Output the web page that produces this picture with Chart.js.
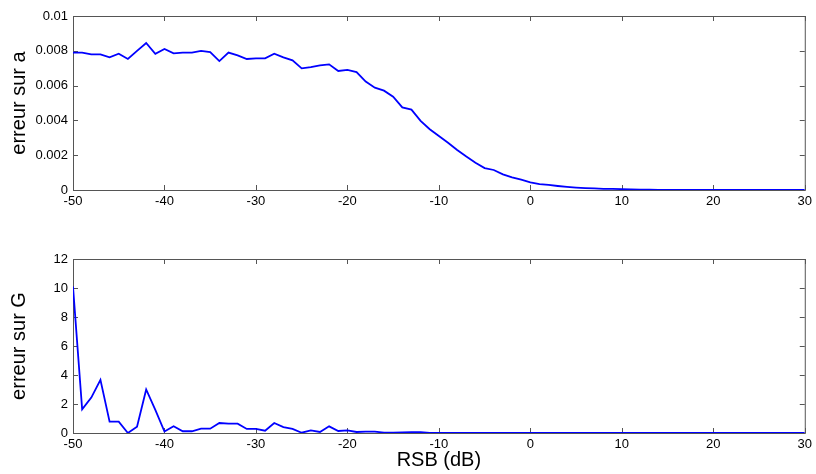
<!DOCTYPE html>
<html>
<head>
<meta charset="utf-8">
<script src="https://cdn.jsdelivr.net/npm/chart.js@4"></script>
<style>
  html, body { margin: 0; padding: 0; background: #fff; }
  #wrap { position: relative; width: 816px; height: 474px; }
  canvas { position: absolute; left: 0; }
  #topChart { top: 0; }
  #bottomChart { top: 237px; }
</style>
</head>
<body>
<div id="wrap">
  <canvas id="topChart" width="816" height="237"></canvas>
  <canvas id="bottomChart" width="816" height="237"></canvas>
</div>
<script>
// RSB values (dB)
const rsb = [
  -50, -49, -48, -47, -46, -45, -44, -43, -42, -41,
  -40, -39, -38, -37, -36, -35, -34, -33, -32, -31,
  -30, -29, -28, -27, -26, -25, -24, -23, -22, -21,
  -20, -19, -18, -17, -16, -15, -14, -13, -12, -11,
  -10, -9, -8, -7, -6, -5, -4, -3, -2, -1,
  0, 1, 2, 3, 4, 5, 6, 7, 8, 9,
  10, 11, 12, 13, 14, 15, 16, 17, 18, 19,
  20, 21, 22, 23, 24, 25, 26, 27, 28, 29,
  30
];

// erreur sur a
const errA = [
  0.0079, 0.0079, 0.0078, 0.0078, 0.00762, 0.00783, 0.00753, 0.0080, 0.00845, 0.00783,
  0.0081, 0.00785, 0.0079, 0.0079, 0.0080, 0.00793, 0.00741, 0.0079, 0.00774, 0.00753,
  0.00757, 0.00757, 0.00783, 0.00762, 0.00745, 0.00699, 0.00706, 0.00716, 0.00722, 0.00684,
  0.0069, 0.00678, 0.00623, 0.00588, 0.00571, 0.00536, 0.00475, 0.00462, 0.00397, 0.00349,
  0.0031, 0.00272, 0.0023, 0.00192, 0.00157, 0.00126, 0.00115, 0.0009, 0.00073, 0.00059,
  0.00044, 0.00034, 0.00029, 0.00023, 0.00018, 0.00014, 0.00011, 0.00009, 0.00007, 0.00006,
  0.00005, 0.00003, 0.00002, 0.00002, 0.00001, 0.00001, 0.00001, 0.00001, 0.00001, 0.00001,
  0.00001, 0.00001, 0.00001, 0.00001, 0.00001, 0.00001, 0.00001, 0.00001, 0.00001, 0.00001,
  0.00001
];

// erreur sur G
const errG = [
  10.1, 1.63, 2.44, 3.66, 0.78, 0.78, 0.0, 0.44, 3.0, 1.6,
  0.1, 0.46, 0.12, 0.12, 0.3, 0.3, 0.69, 0.64, 0.64, 0.28,
  0.28, 0.16, 0.69, 0.41, 0.28, 0.02, 0.18, 0.07, 0.46, 0.14,
  0.18, 0.07, 0.1, 0.1, 0.02, 0.02, 0.05, 0.06, 0.06, 0.01,
  0.01, 0.01, 0.01, 0.01, 0.01, 0.01, 0.01, 0.01, 0.01, 0.01,
  0.01, 0.01, 0.01, 0.01, 0.01, 0.01, 0.01, 0.01, 0.01, 0.01,
  0.01, 0.01, 0.01, 0.01, 0.01, 0.01, 0.01, 0.01, 0.01, 0.01,
  0.01, 0.01, 0.01, 0.01, 0.01, 0.01, 0.01, 0.01, 0.01, 0.01,
  0.01
];

// tick values
const xTicks = [-50, -40, -30, -20, -10, 0, 10, 20, 30];
const yTicksA = [0, 0.002, 0.004, 0.006, 0.008, 0.01];
const yTicksG = [0, 2, 4, 6, 8, 10, 12];

const AXIS_COLOR = '#555555';
const FONT = 'Liberation Sans, Arial, Helvetica, sans-serif';

// MATLAB-like box with inward ticks
const boxPlugin = {
  id: 'box',
  beforeDatasetsDraw(chart) {
    const { ctx, chartArea: a, scales } = chart;
    ctx.save();
    ctx.strokeStyle = AXIS_COLOR;
    ctx.lineWidth = 1;
    ctx.strokeRect(a.left + 0.5, a.top + 0.5, a.right - a.left, a.bottom - a.top);
    const tl = 5;
    ctx.beginPath();
    scales.x.ticks.forEach(t => {
      const px = Math.round(scales.x.getPixelForValue(t.value)) + 0.5;
      ctx.moveTo(px, a.bottom); ctx.lineTo(px, a.bottom - tl);
      ctx.moveTo(px, a.top); ctx.lineTo(px, a.top + tl);
    });
    scales.y.ticks.forEach(t => {
      const py = Math.round(scales.y.getPixelForValue(t.value)) + 0.5;
      ctx.moveTo(a.left, py); ctx.lineTo(a.left + tl, py);
      ctx.moveTo(a.right, py); ctx.lineTo(a.right - tl, py);
    });
    ctx.stroke();
    ctx.restore();
  }
};

function makeChart(id, values, yTicks, yMax, yTitle, xTitle, padTop, xAxisH) {
  const ctx = document.getElementById(id).getContext('2d');
  return new Chart(ctx, {
    type: 'line',
    data: {
      datasets: [{
        data: rsb.map((x, i) => ({ x: x, y: values[i] })),
        borderColor: '#0000ff',
        borderWidth: 1.8,
        pointRadius: 0,
        tension: 0,
        fill: false,
      }]
    },
    options: {
      responsive: false,
      animation: false,
      layout: { padding: { top: padTop, right: 10, left: 0, bottom: 0 } },
      plugins: {
        legend: { display: false },
        tooltip: { enabled: false },
      },
      scales: {
        x: {
          type: 'linear',
          min: -50,
          max: 30,
          afterBuildTicks: s => { s.ticks = xTicks.map(v => ({ value: v })); },
          afterFit: s => { s.height = xAxisH; },
          ticks: {
            color: '#000',
            padding: 4,
            maxRotation: 0,
            font: { family: FONT, size: 13 },
            callback: v => String(v),
          },
          grid: { display: false, drawTicks: false },
          border: { display: false },
          title: {
            display: !!xTitle,
            text: xTitle || '',
            color: '#000',
            font: { family: FONT, size: 20 },
            padding: { top: 0, bottom: 2 },
          },
        },
        y: {
          type: 'linear',
          min: 0,
          max: yMax,
          afterBuildTicks: s => { s.ticks = yTicks.map(v => ({ value: v })); },
          afterFit: s => { s.width = 73; },
          ticks: {
            color: '#000',
            padding: 5,
            font: { family: FONT, size: 13 },
            callback: v => String(+v.toFixed(4)),
          },
          grid: { display: false, drawTicks: false },
          border: { display: false },
          title: {
            display: true,
            text: yTitle,
            color: '#000',
            font: { family: FONT, size: 20 },
            padding: { top: 7, bottom: 0 },
          },
        },
      },
    },
    plugins: [boxPlugin],
  });
}

const topChart = makeChart('topChart', errA, yTicksA, 0.01, 'erreur sur a', null, 16, 47);
const bottomChart = makeChart('bottomChart', errG, yTicksG, 12, 'erreur sur G', 'RSB (dB)', 22, 41);
</script>
</body>
</html>
